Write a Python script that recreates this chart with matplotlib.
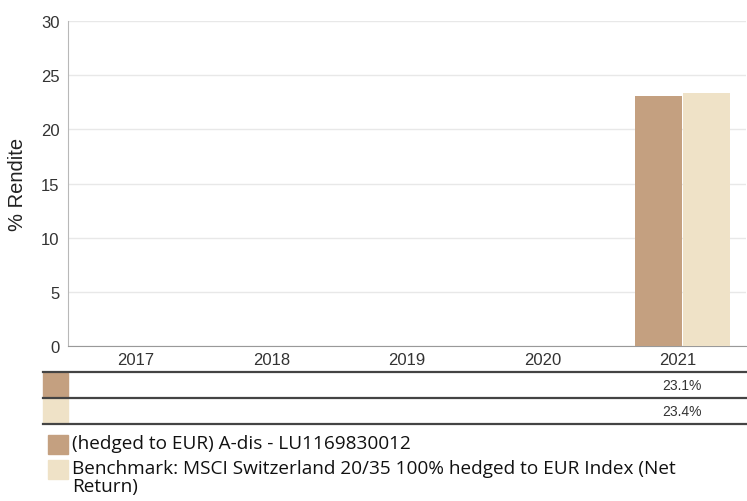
import matplotlib.pyplot as plt
import numpy as np

years = ['2017', '2018', '2019', '2020', '2021']
fund = [np.nan, np.nan, np.nan, np.nan, 23.1]
bench = [np.nan, np.nan, np.nan, np.nan, 23.4]
fund_lbl = ['', '', '', '', '23.1%']
bench_lbl = ['', '', '', '', '23.4%']
names = ['(hedged to EUR) A-dis - LU1169830012',
         'Benchmark: MSCI Switzerland 20/35 100% hedged to EUR Index (Net\nReturn)']

c_fund = '#c4a080'
c_bench = '#efe2c7'

plt.rcParams['font.family'] = ['Liberation Sans', 'DejaVu Sans']

W, H = 747, 502
fig = plt.figure(figsize=(W / 100, H / 100), dpi=100)
ax = fig.add_axes([68 / W, 1 - 347 / H, (746 - 68) / W, (347 - 22) / H])

x = np.arange(len(years))
bw = 0.345
off = 0.03
ax.bar(x - bw / 2 - 0.004 + off, fund, bw, color=c_fund, zorder=3)
ax.bar(x + bw / 2 + 0.004 + off, bench, bw, color=c_bench, zorder=3)

ax.set_xlim(-0.5, len(years) - 0.5)
ax.set_ylim(0, 30)
ax.set_yticks(range(0, 31, 5))
ax.set_xticks(x)
ax.set_xticklabels(years)
ax.grid(axis='y', color='#e8e8e8', lw=1, zorder=0)
ax.tick_params(length=0, labelsize=12, colors='#333333', pad=6)
ax.tick_params(axis='x', pad=4)
for s in ['top', 'right']:
    ax.spines[s].set_visible(False)
ax.spines['left'].set_color('#b8b8b8')
ax.spines['bottom'].set_color('#999999')
ax.set_ylabel('% Rendite', fontsize=14.5, color='#222222', labelpad=10)

# table under the chart
def fy(py):
    return 1 - py / H

for py, lw in [(373, 1.6), (399, 1.6), (425, 1.6)]:
    fig.add_artist(plt.Line2D([43 / W, 1], [fy(py), fy(py)], color='#444444', lw=lw))
for i, (col, vals) in enumerate([(c_fund, fund_lbl), (c_bench, bench_lbl)]):
    top = 374 + i * 26
    fig.add_artist(plt.Rectangle((43 / W, fy(top + 24)), 25 / W, 24 / H,
                                 color=col, transform=fig.transFigure))
    for j, v in enumerate(vals):
        if v:
            xf = fig.transFigure.inverted().transform(ax.transData.transform((j + off, 0)))[0]
            fig.text(xf, fy(top + 12), v, ha='center', va='center', fontsize=10, color='#333333')

# legend
for i, (col, name) in enumerate([(c_fund, names[0]), (c_bench, names[1])]):
    top = 436 + i * 25
    fig.add_artist(plt.Rectangle((48 / W, fy(top + 19)), 20 / W, 19 / H,
                                 color=col, transform=fig.transFigure))
    fig.text(72 / W, fy(top - 1), name, ha='left', va='top', fontsize=13.7,
             family=['Open Sans', 'DejaVu Sans'], color='#111111', linespacing=1.0)

fig.savefig('out.png', dpi=100)
